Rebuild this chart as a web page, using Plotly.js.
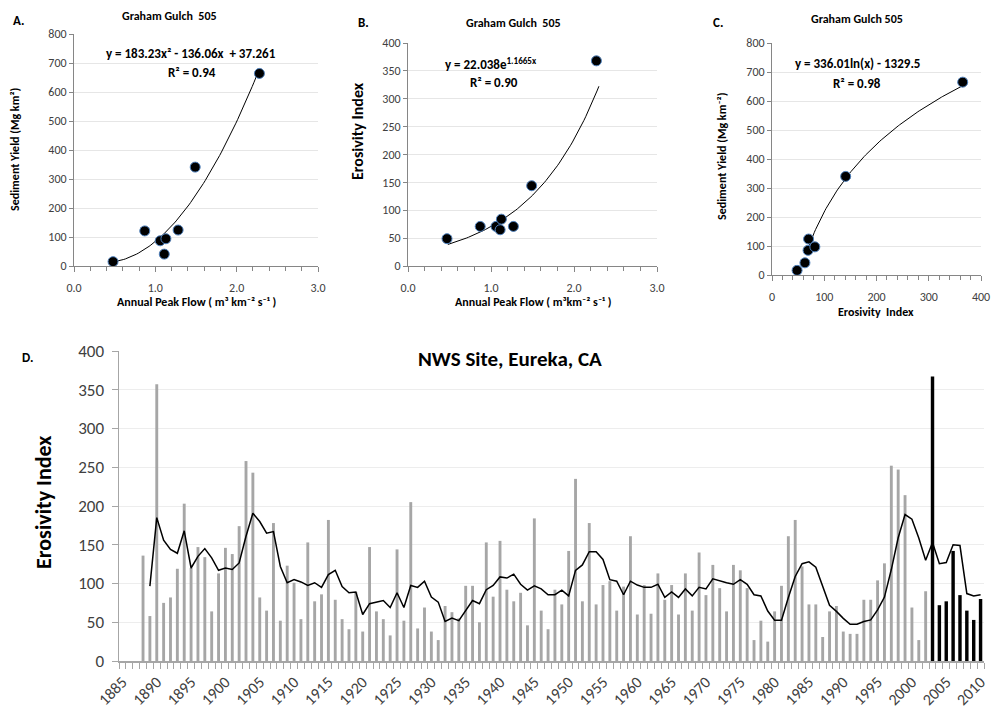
<!DOCTYPE html>
<html>
<head>
<meta charset="utf-8">
<script src="https://cdn.plot.ly/plotly-3.0.1.min.js"></script>
<style>html,body{margin:0;padding:0;background:#fff;}#chart{width:993px;height:723px;}</style>
</head>
<body>
<div id="chart"></div>
<script>
// ---------- Panel A: Sediment yield vs annual peak flow ----------
const flowA = [0.48, 0.87, 1.06, 1.13, 1.11, 1.28, 1.49, 2.28];
const sedA  = [15, 121, 87, 94, 41, 124, 341, 664];
const polyA = [183.23, -136.06, 37.261];           // y = a x^2 + b x + c
const fitRangeA = [0.5, 2.28];

// ---------- Panel B: Erosivity index vs annual peak flow ----------
const flowB = [0.47, 0.87, 1.06, 1.125, 1.11, 1.27, 1.49, 2.27];
const eroB  = [49, 71, 71, 84, 65, 71, 144, 368];
const expB  = [22.038, 1.1665];                     // y = a e^(b x)
const fitRangeB = [0.48, 2.3];

// ---------- Panel C: Sediment yield vs erosivity index ----------
const eroC = [48, 63, 69, 70, 82, 141, 365];
const sedC = [16, 42, 85, 124, 97, 340, 665];
const logC = [336.01, -1329.5];                     // y = a ln(x) + b
const fitRangeC = [66, 367];

// ---------- Panel D: NWS Site, Eureka, CA ----------
const years = [1888,1889,1890,1891,1892,1893,1894,1895,1896,1897,1898,1899,
1900,1901,1902,1903,1904,1905,1906,1907,1908,1909,1910,1911,1912,1913,1914,1915,1916,1917,1918,1919,
1920,1921,1922,1923,1924,1925,1926,1927,1928,1929,1930,1931,1932,1933,1934,1935,1936,1937,1938,1939,
1940,1941,1942,1943,1944,1945,1946,1947,1948,1949,1950,1951,1952,1953,1954,1955,1956,1957,1958,1959,
1960,1961,1962,1963,1964,1965,1966,1967,1968,1969,1970,1971,1972,1973,1974,1975,1976,1977,1978,1979,
1980,1981,1982,1983,1984,1985,1986,1987,1988,1989,1990,1991,1992,1993,1994,1995,1996,1997,1998,1999,
2000,2001,2002,2003,2004,2005,2006,2007,2008,2009,2010];
const erosivity = [136,58,357,75,82,119,203,120,147,134,64,113,
146,138,174,258,243,82,65,178,52,123,101,54,153,77,86,182,79,54,41,89,
38,147,64,54,33,144,52,205,42,69,38,27,71,63,55,97,97,50,153,83,
155,92,77,88,46,184,65,41,92,73,142,235,77,178,73,98,103,65,96,161,
60,98,61,113,79,98,60,113,65,140,85,124,94,64,124,117,94,27,52,25,
64,97,161,182,122,73,73,31,64,71,38,35,35,79,79,104,126,252,247,214,
69,27,90,367,72,77,142,85,65,53,80];
const movingAvgYears = years.slice(1);
const movingAvg = [96.6,185,156,144,139,168,120,135,145,133,117,
120,118,126.5,161,190.6,180,165,167,122,101,105,102,97.5,101,95,111.5,117,96,88,89,
60,74,76,78,69,88,69,97.5,95,103,82.5,76,51,55.5,52,64.5,78,74,92,97.5,
108.5,107,112,99,91.5,97,93,85.5,85.5,91.5,84,117,124,141,141,131,105,103,85.5,103,
98,95,95,99,82,89,82,93,84,95,93,106,103,101,99,105,99,85.5,84,64.5,
52.6,52.6,82,109,125.6,128,121,96.6,72,64,55,47.4,47.4,51,53,66,82.5,118,159,189,
183,158.6,130,153,125.6,127,150,149,87,84,85.5];
const recentStart = 2003;

// ---------- helpers ----------
const W = 993, H = 723;
const px = x => x / W;
const py = y => 1 - y / H;
function sampleCurve(f, lo, hi, n) {
  const xs = [], ys = [];
  for (let i = 0; i <= n; i++) { const x = lo + (hi - lo) * i / n; xs.push(x); ys.push(f(x)); }
  return {xs, ys};
}
const curveA = sampleCurve(x => polyA[0]*x*x + polyA[1]*x + polyA[2], fitRangeA[0], fitRangeA[1], 80);
const curveB = sampleCurve(x => expB[0]*Math.exp(expB[1]*x), fitRangeB[0], fitRangeB[1], 80);
const curveC = sampleCurve(x => logC[0]*Math.log(x) + logC[1], fitRangeC[0], fitRangeC[1], 120);

const FONT = "Carlito, Lato, 'Open Sans', sans-serif";
const marker = {size: 10, color: '#000000', line: {color: '#4F81BD', width: 1}};
const fitLine = {color: '#000000', width: 1};

const grayYears = [], grayVals = [], blackYears = [], blackVals = [];
years.forEach((y, i) => {
  if (y >= recentStart) { blackYears.push(y); blackVals.push(erosivity[i]); }
  else { grayYears.push(y); grayVals.push(erosivity[i]); }
});

const traces = [
  {x: curveA.xs, y: curveA.ys, mode: 'lines', line: fitLine, xaxis: 'x', yaxis: 'y', hoverinfo: 'skip'},
  {x: flowA, y: sedA, mode: 'markers', marker, xaxis: 'x', yaxis: 'y'},
  {x: curveB.xs, y: curveB.ys, mode: 'lines', line: fitLine, xaxis: 'x2', yaxis: 'y2', hoverinfo: 'skip'},
  {x: flowB, y: eroB, mode: 'markers', marker, xaxis: 'x2', yaxis: 'y2'},
  {x: curveC.xs, y: curveC.ys, mode: 'lines', line: fitLine, xaxis: 'x3', yaxis: 'y3', hoverinfo: 'skip'},
  {x: eroC, y: sedC, mode: 'markers', marker, xaxis: 'x3', yaxis: 'y3'},
  {type: 'bar', x: grayYears, y: grayVals, width: 0.42, marker: {color: '#A6A6A6'}, xaxis: 'x4', yaxis: 'y4'},
  {type: 'bar', x: blackYears, y: blackVals, width: 0.5, marker: {color: '#000000'}, xaxis: 'x4', yaxis: 'y4'},
  {x: movingAvgYears, y: movingAvg, mode: 'lines', line: {color: '#000000', width: 1.5}, xaxis: 'x4', yaxis: 'y4'}
];

const tickGray = '#404040';
function topX(domain, range, dtick, minorDtick, anchor, fmt) {
  return {domain, range, anchor, tickmode: 'linear', tick0: 0, dtick, tickformat: fmt,
    showline: true, linecolor: '#868686', linewidth: 1, ticks: 'outside', ticklen: 5, tickcolor: '#868686',
    minor: {dtick: minorDtick, ticks: 'outside', ticklen: 4, tickcolor: '#868686', showgrid: false},
    showgrid: false, zeroline: false, ticklabelstandoff: 6,
    tickfont: {family: FONT, size: 12, color: tickGray}};
}
function topY(domain, range, dtick, anchor) {
  return {domain, range, anchor, tickmode: 'linear', tick0: 0, dtick,
    showline: true, linecolor: '#868686', linewidth: 1, ticks: 'outside', ticklen: 4, tickcolor: '#868686',
    showgrid: true, gridcolor: '#E6E6E6', zeroline: false,
    tickfont: {family: FONT, size: 12, color: tickGray}};
}

const layout = {
  width: W, height: H, margin: {l: 0, r: 0, t: 0, b: 0},
  paper_bgcolor: '#ffffff', plot_bgcolor: 'rgba(0,0,0,0)',
  showlegend: false, barmode: 'overlay', font: {family: FONT, color: '#000'},
  xaxis:  topX([px(74), px(318)], [0, 3], 1, 0.2, 'y', '.1f'),
  yaxis:  topY([py(266), py(34)], [0, 800], 100, 'x'),
  xaxis2: topX([px(408), px(657)], [0, 3], 1, 0.2, 'y2', '.1f'),
  yaxis2: topY([py(266), py(43)], [0, 400], 50, 'x2'),
  xaxis3: topX([px(772), px(981)], [0, 400], 100, 20, 'y3', 'd'),
  yaxis3: topY([py(275), py(43)], [0, 800], 100, 'x3'),
  xaxis4: {domain: [px(119), px(984)], range: [1884.5, 2010.5], anchor: 'y4',
    tickmode: 'linear', tick0: 1885, dtick: 5, ticks: '', tickangle: -45,
    showline: true, linecolor: '#A6A6A6', linewidth: 1.5, showgrid: false, zeroline: false,
    minor: {tick0: 1884.5, dtick: 1, ticks: 'outside', ticklen: 6, tickcolor: '#A6A6A6', showgrid: false},
    ticklabelstandoff: 4,
    tickfont: {family: FONT, size: 16, color: tickGray}},
  yaxis4: {domain: [py(661), py(351)], range: [0, 400], anchor: 'x4', tickmode: 'linear', tick0: 0, dtick: 50,
    showline: true, linecolor: '#A6A6A6', linewidth: 1.5, ticks: 'outside', ticklen: 6, tickcolor: '#A6A6A6',
    showgrid: true, gridcolor: '#EDEDED', zeroline: false, ticklabelstandoff: 4,
    tickfont: {family: FONT, size: 17, color: tickGray}},
  annotations: []
};

function ann(text, x, y, size, opts) {
  layout.annotations.push(Object.assign({text, x: px(x), y: py(y), xref: 'paper', yref: 'paper',
    showarrow: false, xanchor: 'center', yanchor: 'middle',
    font: {family: FONT, size, color: '#000000', weight: 'bold'}}, opts || {}));
}
// panel letters and titles
ann('A.', 18, 20, 13);
ann('B.', 363, 22, 13);
ann('C.', 718, 22, 13);
ann('D.', 27, 357, 13);
ann('Graham Gulch  505', 169, 16, 12);
ann('Graham Gulch  505', 513, 23, 12);
ann('Graham Gulch 505', 857, 19, 12);
ann('NWS Site, Eureka, CA', 510, 359, 21);
// equations
ann('y = 183.23x² - 136.06x  + 37.261', 191, 54, 13);
ann('R² = 0.94', 192, 73, 13);
ann('y = 22.038e<sup>1.1665x</sup>', 491, 63, 13);
ann('R² = 0.90', 494, 82, 13);
ann('y = 336.01ln(x) - 1329.5', 857, 63, 13);
ann('R² = 0.98', 857, 83, 13);
// axis titles
ann('Annual Peak Flow ( m³ km⁻² s⁻¹ )', 196, 302, 12);
ann('Annual Peak Flow ( m³km⁻² s⁻¹ )', 533, 302, 12);
ann('Erosivity  Index', 876, 312, 12);
ann('Sediment Yield (Mg km²)', 15, 150, 12, {textangle: -90});
ann('Erosivity Index', 357, 131, 16, {textangle: -90});
ann('Sediment Yield (Mg km⁻²)', 722, 157, 12, {textangle: -90});
ann('Erosivity Index', 43, 503, 22, {textangle: -90});

Plotly.newPlot('chart', traces, layout, {staticPlot: true, displayModeBar: false});
</script>
</body>
</html>
